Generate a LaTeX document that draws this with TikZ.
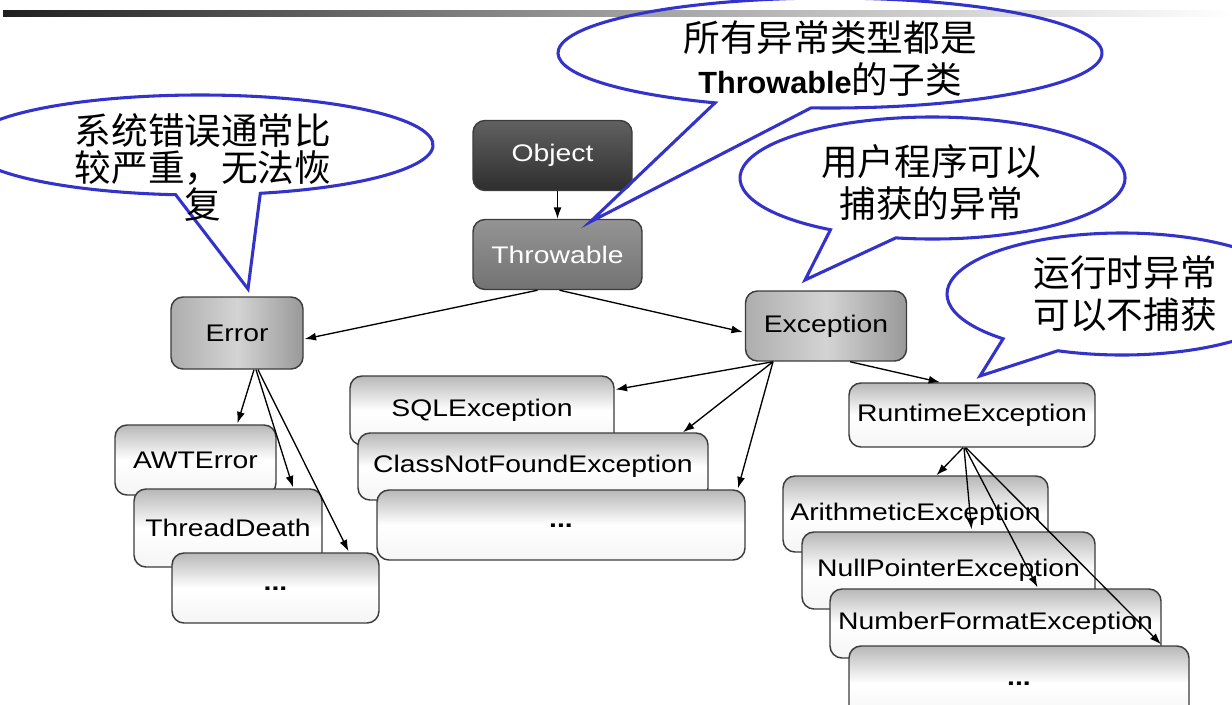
\documentclass[tikz,border=0pt]{standalone}
\usepackage{fontspec}
\setmainfont{Liberation Sans}
\newfontfamily\cjkfont{Noto Sans CJK SC}
\newfontfamily\boxfont[FakeStretch=1.18]{Liberation Sans}
\usetikzlibrary{arrows.meta,calc}
\definecolor{callblue}{RGB}{51,51,204}
\definecolor{boxborder}{RGB}{60,60,60}
\newcommand\boxdots{\raisebox{-3pt}{\bfseries ...}}
\begin{document}
\begin{tikzpicture}[x=0.75pt,y=-0.75pt,
  nodebox/.style={draw=boxborder, line width=1.1pt, rounded corners=9pt,
    font=\boxfont\fontsize{18pt}{20pt}\selectfont, inner sep=0pt},
  sz/.style 2 args={minimum width=#1*0.75pt, minimum height=#2*0.75pt},
  leaf/.style={nodebox, top color=black!28, bottom color=black!4, middle color=white, text=black},
  midbox/.style={nodebox, left color=black!32, right color=black!40, middle color=black!17, text=black},
  darkbox/.style={nodebox, top color=black!62, bottom color=black!82, text=white},
  greybox/.style={nodebox, top color=black!42, bottom color=black!55, text=white},
  conn/.style={draw=black, line width=1pt, -{Latex[length=8.5pt,width=6pt]}},
  callout/.style={draw=callblue, line width=2.3pt, line join=miter},
  calltext/.style={font=\cjkfont\fontsize{27.5pt}{#1}\selectfont, align=center, inner sep=0pt, text=black}
]
\fill[white] (0,0) rectangle (1232,704);
\clip (0,0) rectangle (1232,704);
\useasboundingbox (0,0) rectangle (1232,704);

% top bar
\shade[left color=black!88, right color=white, middle color=black!38] (3,10) rectangle (1232,16);

% hierarchy boxes
\node[darkbox, sz={159}{70}] (obj) at (552.5,155.5) {Object};
\node[greybox, sz={169}{70}] (thr) at (557.5,254.5) {Throwable};
\node[midbox, sz={132}{72}] (err) at (237,333) {Error};
\node[midbox, sz={161}{70}] (exc) at (826,326) {Exception};

% Error children
\node[leaf, sz={161}{70}] (awt) at (195.5,460) {AWTError};
\node[leaf, sz={188}{78}] (thd) at (228,528) {ThreadDeath};
\node[leaf, sz={207}{70}] (errdots) at (275.5,588) {\boxdots};

% Exception children
\node[leaf, sz={264}{69}] (sql) at (482,410.5) {SQLException};
\node[leaf, sz={350}{67}] (cnf) at (533,466.5) {ClassNotFoundException};
\node[leaf, sz={368}{70}] (excdots) at (561,525) {\boxdots};
\node[leaf, sz={246}{64}] (rte) at (972,415) {RuntimeException};

% RuntimeException children
\node[leaf, sz={265}{76}] (ari) at (915.5,514) {ArithmeticException};
\node[leaf, sz={293}{77}] (npe) at (948.5,570.5) {NullPointerException};
\node[leaf, sz={331}{69}] (nfe) at (995.5,623.5) {NumberFormatException};
\node[leaf, sz={340}{74}] (rtdots) at (1019,683) {\boxdots};

% connectors
\draw[conn] (thr.north |- obj.south) -- (thr.north);
\draw[conn] ($(thr.south)+(-20,0)$) -- ($(err.east)+(1,6)$);
\draw[conn] ($(thr.south)+(2,0)$) -- ($(exc.west)+(-2,6)$);
\draw[conn] ($(err.south)+(17,0)$) -- ($(awt.north)+(42,-1)$);
\draw[conn] ($(err.south)+(19,0)$) -- ($(thd.north)+(65,-1)$);
\draw[conn] ($(err.south)+(21,0)$) -- ($(errdots.north)+(73,-1)$);
\draw[conn] ($(exc.south)+(-53,0)$) -- ($(sql.east)+(1,-21)$);
\draw[conn] ($(exc.south)+(-53,0)$) -- ($(cnf.north)+(150,0)$);
\draw[conn] ($(exc.south)+(-53,0)$) -- ($(excdots.north)+(177,-1)$);
\draw[conn] ($(exc.south)+(24,0)$) -- ($(rte.north)+(-32,0)$);
\draw[conn] ($(rte.south)+(-9,0)$) -- ($(ari.north)+(21,0)$);
\draw[conn] ($(rte.south)+(-8,0)$) -- ($(npe.north)+(23,-2)$);
\draw[conn] ($(rte.south)+(-7,0)$) -- ($(nfe.north)+(42,-1)$);
\draw[conn] ($(rte.south)+(-6,0)$) -- ($(rtdots.north)+(142,-1)$);

% callouts
\coordinate (c1) at (830,53);
\coordinate (t1) at (590,222);
\draw[callout] (c1) ++(94:272 and 55) arc[start angle=94, end angle=-245, x radius=272, y radius=55] -- (t1) -- cycle;
\node[calltext=32pt] (txt1) at (830,58.5) {所有异常类型都是\\{\fontspec{Liberation Sans}\bfseries\fontsize{23pt}{32pt}\selectfont Throwable}的子类};

\coordinate (c2) at (200,145);
\coordinate (t2) at (248,289);
\draw[callout] (c2) ++(75:233 and 50) arc[start angle=75, end angle=-264, x radius=233, y radius=50] -- (t2) -- cycle;
\node[calltext=27.4pt] (txt2) at (203,167.5) {系统错误通常比\\较严重，无法恢\\复};

\coordinate (c3) at (932.5,178);
\coordinate (t3) at (805,280);
\draw[callout] (c3) ++(101:192.5 and 61) arc[start angle=101, end angle=-238, x radius=192.5, y radius=61] -- (t3) -- cycle;
\node[calltext=31pt] (txt3) at (931,182.5) {用户程序可以\\捕获的异常};

\coordinate (c4) at (1122,294);
\coordinate (t4) at (980,376);
\draw[callout] (c4) ++(111.5:175 and 61) arc[start angle=111.5, end angle=-227.2, x radius=175, y radius=61] -- (t4) -- cycle;
\node[calltext=32pt] (txt4) at (1125,293.5) {运行时异常\\可以不捕获};
\end{tikzpicture}
\end{document}
